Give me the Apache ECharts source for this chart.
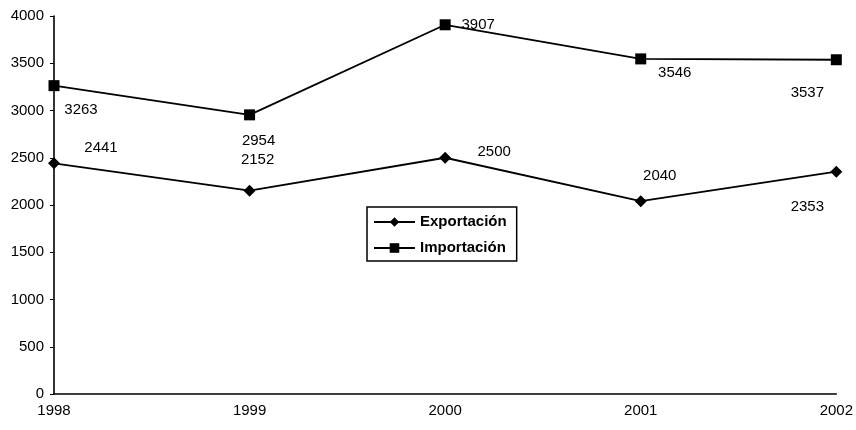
<!DOCTYPE html>
<html>
<head>
<meta charset="utf-8">
<script src="https://cdn.jsdelivr.net/npm/echarts@6/dist/echarts.min.js"></script>
<style>
  html, body { margin: 0; padding: 0; background: #fff; }
  #chart { width: 856px; height: 430px; }
</style>
</head>
<body>
<div id="chart"></div>
<script>
// Years on the horizontal axis
const years = ['1998', '1999', '2000', '2001', '2002'];
// Trade values per year
const exportacion = [2441, 2152, 2500, 2040, 2353];
const importacion = [3263, 2954, 3907, 3546, 3537];

// Value-label offsets from each marker (pixels, [dx, dy])
const expLabelOffsets = [[47, -15], [8, -31], [49, -6], [19, -25], [-29, 35]];
const impLabelOffsets = [[27, 24], [9, 26], [33, 0], [34, 14], [-29, 33]];

const FONT = 'Liberation Sans, Arial, sans-serif';

function withLabels(values, offsets) {
  return values.map((v, i) => ({
    value: v,
    label: { offset: offsets[i] }
  }));
}

const chart = echarts.init(document.getElementById('chart'), null, { renderer: 'canvas' });

chart.setOption({
  backgroundColor: '#ffffff',
  animation: false,
  grid: { left: 54, right: 19, top: 16, bottom: 36, containLabel: false },
  legend: {
    orient: 'vertical',
    left: 367,
    top: 207,
    padding: [6, 10, 4, 6],
    itemGap: 8,
    itemWidth: 41,
    itemHeight: 12,
    borderColor: '#000',
    borderWidth: 1.5,
    borderRadius: 0,
    backgroundColor: '#fff',
    textStyle: { color: '#000', fontFamily: FONT, fontSize: 15, fontWeight: 'bold', lineHeight: 18 },
    data: ['Exportación', 'Importación']
  },
  xAxis: {
    type: 'category',
    data: years,
    boundaryGap: false,
    axisLine: { lineStyle: { color: '#000', width: 1.6 } },
    axisTick: { show: false },
    axisLabel: { color: '#000', fontFamily: FONT, fontSize: 15, margin: 9 },
    splitLine: { show: false }
  },
  yAxis: {
    type: 'value',
    min: 0,
    max: 4000,
    interval: 500,
    axisLine: { show: true, lineStyle: { color: '#000', width: 1.6 } },
    axisTick: { show: true, length: 4, lineStyle: { color: '#000' } },
    axisLabel: { color: '#000', fontFamily: FONT, fontSize: 15, margin: 10, formatter: v => String(v) },
    splitLine: { show: false }
  },
  series: [
    {
      name: 'Exportación',
      type: 'line',
      data: withLabels(exportacion, expLabelOffsets),
      symbol: 'diamond',
      symbolSize: 12,
      itemStyle: { color: '#000' },
      lineStyle: { color: '#000', width: 1.8 },
      label: {
        show: true,
        position: 'inside',
        color: '#000',
        fontFamily: FONT,
        fontSize: 15
      }
    },
    {
      name: 'Importación',
      type: 'line',
      data: withLabels(importacion, impLabelOffsets),
      symbol: 'rect',
      symbolSize: 11,
      itemStyle: { color: '#000' },
      lineStyle: { color: '#000', width: 1.8 },
      label: {
        show: true,
        position: 'inside',
        color: '#000',
        fontFamily: FONT,
        fontSize: 15
      }
    }
  ]
});
</script>
</body>
</html>
